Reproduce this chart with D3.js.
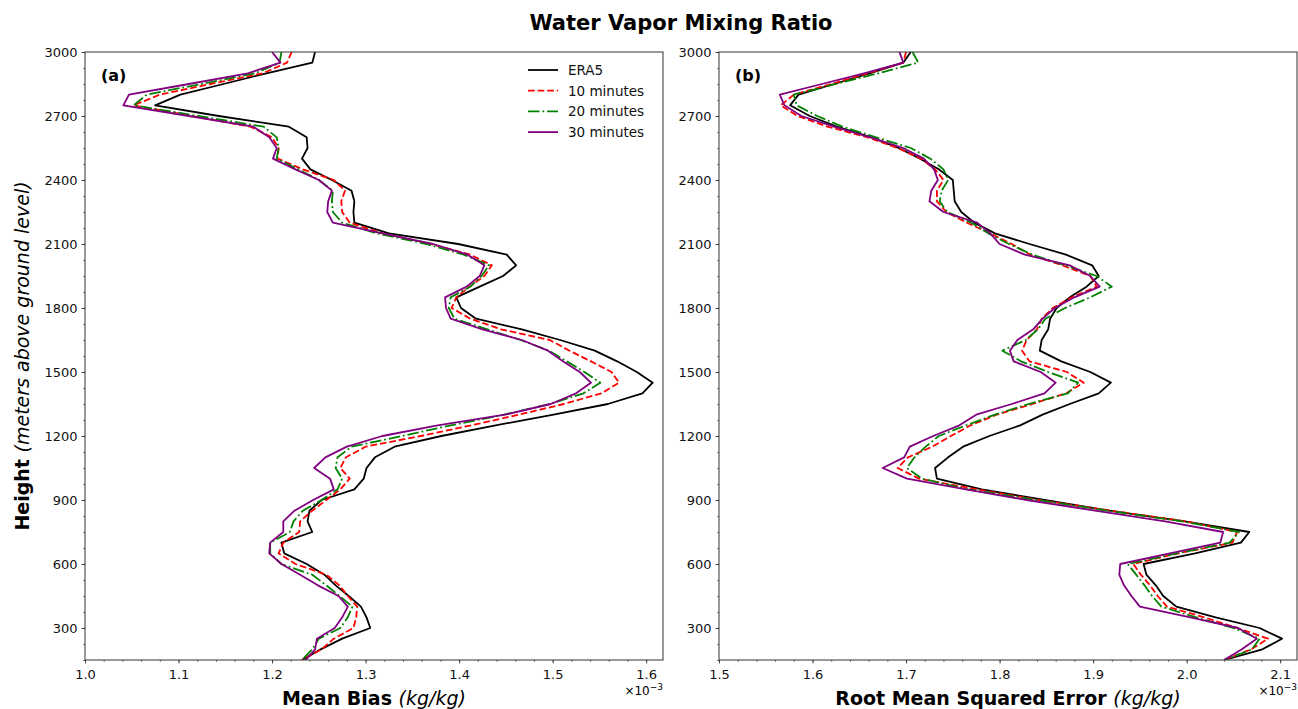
<!DOCTYPE html>
<html><head><meta charset="utf-8">
<script src="https://cdn.jsdelivr.net/npm/d3@7"></script>
<style>
body{margin:0;background:#fff}
text{font-family:"DejaVu Sans",sans-serif}
</style>
</head><body>
<svg id="c" width="1298" height="709"></svg>
<script>
// ---------- DATA ----------
const heights = [3000,2950,2900,2850,2800,2750,2700,2650,2600,2550,2500,2450,2400,2350,2300,2250,2200,2150,2100,2050,2000,1950,1900,1850,1800,1750,1700,1650,1600,1550,1500,1450,1400,1350,1300,1250,1200,1150,1100,1050,1000,950,900,850,800,750,700,650,600,550,500,450,400,350,300,250,200,150];

const seriesNames = ["ERA5","10 minutes","20 minutes","30 minutes"];

// Panel (a) Mean Bias (x 1e-3 kg/kg)
const biasERA5 = [1.246,1.243,1.194,1.148,1.102,1.075,1.143,1.218,1.237,1.238,1.232,1.241,1.264,1.285,1.288,1.287,1.288,1.325,1.399,1.451,1.461,1.447,1.422,1.397,1.402,1.418,1.467,1.508,1.545,1.569,1.590,1.607,1.596,1.559,1.501,1.439,1.381,1.331,1.310,1.301,1.298,1.288,1.253,1.240,1.238,1.243,1.210,1.213,1.237,1.256,1.268,1.282,1.295,1.301,1.305,1.275,1.252,1.232];
const bias10 = [1.221,1.216,1.190,1.134,1.080,1.052,1.114,1.177,1.200,1.207,1.206,1.233,1.266,1.278,1.274,1.275,1.283,1.318,1.370,1.412,1.435,1.427,1.411,1.397,1.392,1.412,1.445,1.497,1.518,1.541,1.563,1.571,1.552,1.512,1.464,1.413,1.359,1.300,1.279,1.273,1.283,1.273,1.258,1.243,1.230,1.229,1.212,1.207,1.225,1.258,1.272,1.281,1.291,1.290,1.287,1.266,1.253,1.232];
const bias20 = [1.210,1.208,1.182,1.124,1.066,1.052,1.121,1.191,1.205,1.207,1.205,1.228,1.250,1.265,1.264,1.265,1.275,1.312,1.365,1.405,1.432,1.424,1.412,1.391,1.389,1.395,1.430,1.466,1.496,1.515,1.534,1.551,1.533,1.497,1.448,1.391,1.339,1.285,1.270,1.268,1.275,1.270,1.253,1.233,1.223,1.219,1.198,1.198,1.210,1.243,1.258,1.272,1.286,1.281,1.273,1.250,1.243,1.232];
const bias30 = [1.200,1.209,1.174,1.111,1.047,1.041,1.111,1.180,1.197,1.205,1.201,1.225,1.250,1.264,1.260,1.259,1.265,1.318,1.372,1.409,1.427,1.422,1.408,1.385,1.386,1.391,1.425,1.467,1.495,1.511,1.529,1.541,1.525,1.498,1.449,1.377,1.318,1.280,1.257,1.245,1.262,1.266,1.244,1.224,1.212,1.212,1.198,1.197,1.210,1.230,1.249,1.271,1.281,1.275,1.267,1.248,1.246,1.236];

// Panel (b) RMSE (x 1e-3 kg/kg)
const rmseERA5 = [1.705,1.697,1.661,1.623,1.585,1.576,1.597,1.626,1.663,1.692,1.715,1.735,1.750,1.751,1.752,1.759,1.773,1.795,1.832,1.871,1.899,1.906,1.893,1.875,1.861,1.854,1.852,1.845,1.843,1.866,1.897,1.919,1.906,1.875,1.846,1.822,1.789,1.761,1.745,1.731,1.733,1.781,1.848,1.917,1.998,2.067,2.058,2.009,1.954,1.957,1.967,1.975,1.989,2.031,2.078,2.102,2.081,2.040];
const rmse10 = [1.700,1.697,1.659,1.620,1.580,1.566,1.584,1.616,1.659,1.691,1.716,1.731,1.740,1.733,1.733,1.743,1.765,1.790,1.813,1.833,1.867,1.897,1.904,1.877,1.857,1.845,1.840,1.829,1.824,1.832,1.872,1.890,1.871,1.835,1.797,1.769,1.748,1.728,1.702,1.691,1.714,1.776,1.842,1.919,1.999,2.054,2.049,1.991,1.943,1.951,1.961,1.969,1.979,2.019,2.054,2.087,2.069,2.040];
const rmse20 = [1.707,1.713,1.670,1.625,1.580,1.583,1.605,1.632,1.668,1.705,1.726,1.740,1.745,1.738,1.736,1.744,1.770,1.788,1.810,1.835,1.870,1.904,1.920,1.897,1.870,1.849,1.841,1.828,1.803,1.823,1.852,1.884,1.873,1.831,1.795,1.764,1.735,1.721,1.709,1.701,1.717,1.766,1.840,1.915,1.995,2.056,2.046,1.990,1.937,1.946,1.955,1.963,1.973,2.010,2.050,2.078,2.070,2.040];
const rmse30 = [1.693,1.697,1.655,1.610,1.565,1.570,1.588,1.623,1.662,1.697,1.719,1.730,1.734,1.727,1.725,1.740,1.776,1.790,1.800,1.827,1.875,1.897,1.907,1.880,1.859,1.846,1.836,1.819,1.811,1.815,1.844,1.860,1.848,1.813,1.775,1.757,1.729,1.704,1.698,1.675,1.701,1.764,1.829,1.902,1.977,2.039,2.036,1.982,1.929,1.928,1.933,1.941,1.950,2.004,2.055,2.075,2.059,2.040];

const biasTicks = [1.0,1.1,1.2,1.3,1.4,1.5,1.6];
const rmseTicks = [1.5,1.6,1.7,1.8,1.9,2.0,2.1];
const heightTicks = [300,600,900,1200,1500,1800,2100,2400,2700,3000];

// ---------- STYLE ----------
const colors = ["#000000","#ff0000","#008000","#800080"];
const dashes = [null,"6.7,2.9","11.5,2.9,1.8,2.9",null];
const lw = 1.8;

const svg = d3.select("#c");
const plotTop = 52, plotBottom = 660;

const y = d3.scaleLinear().domain([150,3000]).range([plotBottom, plotTop]);

function panel(opts){
  const {left,right,domain,ticks,series,labelBold,label,tag,legend,id} = opts;
  const x = d3.scaleLinear().domain(domain).range([left,right]);
  const g = svg.append("g");
  g.append("clipPath").attr("id",id).append("rect")
    .attr("x",left).attr("y",plotTop).attr("width",right-left).attr("height",plotBottom-plotTop);

  // minor ticks x
  const minorX = d3.range(Math.round(domain[0]*50)/50, domain[1]+1e-9, 0.02);
  g.append("g").attr("transform",`translate(0,${plotBottom})`)
    .call(d3.axisBottom(x).tickValues(minorX).tickSize(2).tickFormat(""))
    .call(s=>s.select(".domain").remove())
    .call(s=>s.selectAll("line").attr("stroke","#222").attr("stroke-width",0.6));
  const ax = g.append("g").attr("transform",`translate(0,${plotBottom})`)
    .call(d3.axisBottom(x).tickValues(ticks).tickSize(3.5).tickPadding(6).tickFormat(d3.format(".1f")));
  ax.select(".domain").remove();
  ax.selectAll("line").attr("stroke","#222").attr("stroke-width",0.8);
  ax.selectAll("text").attr("font-size",13).attr("fill","#111").attr("font-family","DejaVu Sans");

  // y ticks
  const minorY = d3.range(150,3001,75);
  g.append("g").attr("transform",`translate(${left},0)`)
    .call(d3.axisLeft(y).tickValues(minorY).tickSize(2).tickFormat(""))
    .call(s=>s.select(".domain").remove())
    .call(s=>s.selectAll("line").attr("stroke","#222").attr("stroke-width",0.6));
  const ay = g.append("g").attr("transform",`translate(${left},0)`)
    .call(d3.axisLeft(y).tickValues(heightTicks).tickSize(3.5).tickPadding(4).tickFormat(d3.format("d")));
  ay.select(".domain").remove();
  ay.selectAll("line").attr("stroke","#222").attr("stroke-width",0.8);
  ay.selectAll("text").attr("font-size",13).attr("fill","#111").attr("font-family","DejaVu Sans");

  // lines
  const line = d3.line().x(d=>x(d[1])).y(d=>y(d[0]));
  const lg = g.append("g").attr("clip-path",`url(#${id})`);
  series.forEach((vals,i)=>{
    lg.append("path").datum(heights.map((h,k)=>[h,vals[k]]))
      .attr("d",line).attr("fill","none")
      .attr("stroke",colors[i]).attr("stroke-width",lw)
      .attr("stroke-linejoin","round")
      .attr("stroke-dasharray",dashes[i]);
  });

  // frame
  g.append("rect").attr("x",left).attr("y",plotTop).attr("width",right-left).attr("height",plotBottom-plotTop)
    .attr("fill","none").attr("stroke","#333").attr("stroke-width",1);

  // panel tag
  g.append("text").attr("x",left+16).attr("y",plotTop+29).attr("font-size",16).attr("font-weight","bold").text(tag);

  // multiplier
  g.append("text").attr("x",right).attr("y",695).attr("text-anchor","end").attr("font-size",12)
    .html('×10<tspan dy="-5" font-size="9">−3</tspan>');

  // x label
  const xl = g.append("text").attr("x",(left+right)/2).attr("y",705).attr("text-anchor","middle").attr("font-size",19);
  xl.append("tspan").attr("font-weight","bold").text(labelBold+" ");
  xl.append("tspan").attr("font-style","italic").text(label);

  if(legend){
    const lx = 528, ly0 = 70, dy = 20.7;
    seriesNames.forEach((n,i)=>{
      const yy = ly0 + i*dy;
      g.append("line").attr("x1",lx).attr("x2",lx+30).attr("y1",yy).attr("y2",yy)
        .attr("stroke",colors[i]).attr("stroke-width",lw).attr("stroke-dasharray",dashes[i]);
      g.append("text").attr("x",lx+40).attr("y",yy+5).attr("font-size",13.5).attr("fill","#111").text(n);
    });
  }
}

panel({id:"ca",left:85,right:663,domain:[1.0,1.618],ticks:biasTicks,
  series:[biasERA5,bias10,bias20,bias30],labelBold:"Mean Bias",label:"(kg/kg)",tag:"(a)",legend:true});
panel({id:"cb",left:719,right:1297,domain:[1.5,2.118],ticks:rmseTicks,
  series:[rmseERA5,rmse10,rmse20,rmse30],labelBold:"Root Mean Squared Error",label:"(kg/kg)",tag:"(b)",legend:false});

// title
svg.append("text").attr("x",681).attr("y",30).attr("text-anchor","middle")
  .attr("font-size",21).attr("font-weight","bold").text("Water Vapor Mixing Ratio");

// y label
const yl = svg.append("text").attr("transform",`translate(29,${(plotTop+plotBottom)/2}) rotate(-90)`)
  .attr("text-anchor","middle").attr("font-size",19);
yl.append("tspan").attr("font-weight","bold").text("Height ");
yl.append("tspan").attr("font-style","italic").text("(meters above ground level)");
</script>
</body></html>
